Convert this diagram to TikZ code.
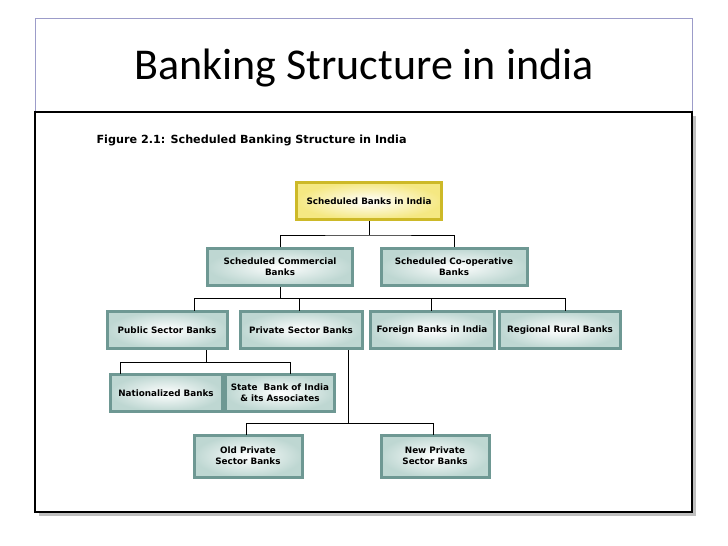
\documentclass[tikz,border=0pt]{standalone}
\usepackage{fontspec}
\setmainfont{Carlito}
\newfontfamily\boxfont{DejaVu Sans}
\usetikzlibrary{positioning,shadows}

\definecolor{bevel}{RGB}{110,152,147}
\definecolor{bevelin}{RGB}{190,215,210}
\definecolor{gold}{RGB}{205,185,40}
\definecolor{goldin}{RGB}{245,232,130}

\tikzset{
	bank/.style = {draw=bevel, line width=3pt, inner color=white, outer color=bevelin,
		font=\boxfont\bfseries\fontsize{8.8}{11}\selectfont, align=center,
		minimum height=37pt, inner sep=1pt},
	topbank/.style = {bank, draw=gold, outer color=goldin},
	link/.style = {line width=1pt}
}

\begin{document}
\begin{tikzpicture}[x=1pt,y=-1pt]
	\useasboundingbox (0,0) rectangle (728,546);
	% slide frames
	\draw[gray!40] (35,18) rectangle (692,512);
	\draw[blue!30!gray!60] (35,18) rectangle (692,112);
	\fill[gray!50] (39,116) rectangle (696,516);
	\draw[line width=1.6pt, fill=white] (35,112) rectangle (692,512);
	\node (title) at (364,68) {\fontsize{44}{50}\selectfont Banking Structure in india};
	\node[anchor=west, font=\boxfont\bfseries\fontsize{11.2}{13}\selectfont] (fig) at (93,140)
		{Figure 2.1: Scheduled Banking Structure in India};

	% boxes
	\node[topbank, minimum width=145pt] (sbi) at (369,201) {Scheduled Banks in India};
	\node[bank, minimum width=145pt, text width=138pt] (comm) at (280,267) {Scheduled Commercial\\Banks};
	\node[bank, minimum width=146pt, text width=138pt] (coop) at (454,267) {Scheduled Co-operative\\Banks};
	\node[bank, minimum width=120pt] (pub) at (167,330) {Public Sector Banks};
	\node[bank, minimum width=122pt] (priv) at (301,330) {Private Sector Banks};
	\node[bank, minimum width=124pt] (for) at (432,330) {Foreign Banks in India};
	\node[bank, minimum width=121pt] (rrb) at (560,330) {Regional Rural Banks};
	\node[bank, minimum width=112pt] (nat) at (166,393) {Nationalized Banks};
	\node[bank, minimum width=109pt] (sbia) at (280,393) {State\ \ Bank of India\\\& its Associates};
	\node[bank, minimum width=108pt, minimum height=42pt] (old) at (248,456) {Old Private\\Sector Banks};
	\node[bank, minimum width=108pt, minimum height=42pt] (new) at (435,456) {New Private\\Sector Banks};

	% connectors
	\coordinate (j1) at (369,235);
	\draw[link] (sbi.south) -- (j1);
	\draw[link] (comm.north) |- (j1) -| (coop.north);
	\coordinate (j2) at (280,298);
	\draw[link] (comm.south) -- (j2);
	\draw[link] (194,298) -- (565,298);
	\foreach \x in {194,299,431,565}
		\draw[link] (\x,298) -- (\x,311);
	\coordinate (j3) at (206,362);
	\draw[link] (206,350) -- (j3);
	\draw[link] (120,362) -- (290,362);
	\draw[link] (120,362) -- (120,374);
	\draw[link] (290,362) -- (290,374);
	\coordinate (j4) at (348,423);
	\draw[link] (348,350) -- (j4);
	\draw[link] (246,423) -- (433,423);
	\draw[link] (246,423) -- (246,435);
	\draw[link] (433,423) -- (433,435);
\end{tikzpicture}
\end{document}
